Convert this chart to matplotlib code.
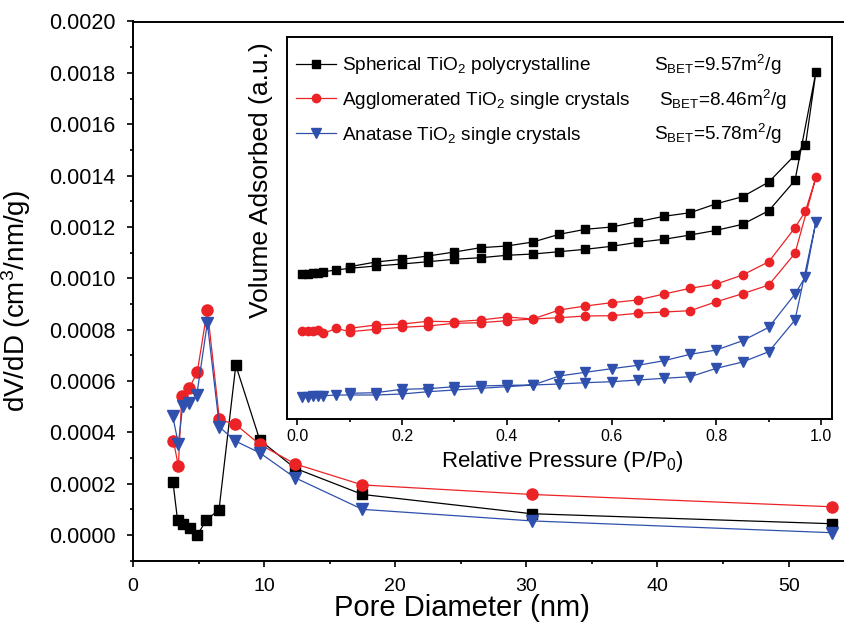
import numpy as np
import matplotlib
matplotlib.use("Agg")
import matplotlib.pyplot as plt
from matplotlib.ticker import MultipleLocator, FormatStrFormatter

plt.rcParams["font.family"] = ["Liberation Sans", "DejaVu Sans"]
plt.rcParams["mathtext.fontset"] = "custom"
plt.rcParams["mathtext.rm"] = "Liberation Sans"
plt.rcParams["mathtext.it"] = "Liberation Sans:italic"
plt.rcParams["mathtext.bf"] = "Liberation Sans:bold"

W, H = 845, 629  # figure size in px, used for placing titles

# ---- main panel: BJH pore size distribution --------------------------------
d_sph = [3.05, 3.4, 3.83, 4.35, 4.9, 5.6, 6.56, 7.84, 9.67, 12.36, 17.5, 30.4, 53.3]
v_sph = [0.000206, 0.000057, 0.000042, 0.000029, 0.0, 0.000058, 0.000099,
         0.000661, 0.000370, 0.000260, 0.000158, 0.000083, 0.000044]
d_agg = [3.08, 3.46, 3.72, 4.3, 4.9, 5.67, 6.59, 7.81, 9.67, 12.36, 17.5, 30.4, 53.3]
v_agg = [0.000368, 0.000268, 0.000541, 0.000573, 0.000634, 0.000878, 0.000450,
         0.000431, 0.000353, 0.000277, 0.000195, 0.000158, 0.000110]
d_ana = [3.03, 3.46, 3.79, 4.3, 4.86, 5.67, 6.59, 7.81, 9.67, 12.36, 17.5, 30.4, 53.3]
v_ana = [0.000463, 0.000355, 0.000502, 0.000515, 0.000544, 0.000826, 0.000421,
         0.000366, 0.000320, 0.000223, 0.000100, 0.000055, 0.000009]

# ---- inset: N2 isotherms (adsorption then desorption, arbitrary units) -----
p_ads = [0.01, 0.02, 0.03, 0.04, 0.05, 0.075, 0.1, 0.15, 0.2, 0.25, 0.3, 0.35,
         0.4, 0.45, 0.5, 0.55, 0.6, 0.65, 0.7, 0.75, 0.8, 0.85, 0.9, 0.95, 0.99]
p_des = [0.97, 0.95, 0.9, 0.85, 0.8, 0.75, 0.7, 0.65, 0.6, 0.55, 0.5, 0.45,
         0.4, 0.35, 0.3, 0.25, 0.2, 0.15, 0.1]

sph_ads = [144.7, 145.0, 145.7, 146.3, 147.3, 149.0, 150.7, 153.0, 155.0, 157.3,
           159.7, 161.3, 163.7, 165.0, 167.3, 169.7, 172.7, 176.7, 179.7, 184.0,
           188.7, 194.7, 208.3, 238.7, 347.3]
sph_des = [274.0, 264.0, 237.0, 222.3, 215.3, 206.3, 202.7, 197.3, 192.0, 189.7,
           184.7, 177.0, 173.0, 171.3, 167.0, 163.0, 159.7, 157.0, 152.3]

agg_ads = [88.0, 88.0, 88.3, 88.7, 85.7, 90.7, 87.3, 89.7, 91.7, 93.0, 95.7,
           96.3, 98.3, 100.0, 101.3, 103.0, 103.3, 105.7, 107.0, 108.3, 117.3,
           125.3, 134.0, 165.7, 241.7]
agg_des = [208.0, 191.3, 157.3, 144.0, 135.0, 130.7, 125.0, 119.0, 116.3, 113.0,
           109.0, 100.0, 102.0, 99.0, 97.3, 97.7, 95.0, 94.0, 90.7]

ana_ads = [22.3, 22.3, 22.7, 23.0, 23.3, 24.0, 24.0, 24.0, 25.0, 27.3, 29.0,
           30.7, 32.3, 34.0, 35.0, 36.3, 37.3, 39.0, 40.7, 42.3, 50.7, 57.0,
           67.3, 99.0, 197.3]
ana_des = [142.3, 125.0, 91.7, 78.3, 69.0, 64.7, 58.3, 53.7, 50.3, 46.7, 43.0,
           34.0, 33.7, 33.0, 32.3, 30.3, 29.7, 26.3, 25.7]

labels = [r"Spherical TiO$_2$ polycrystalline",
          r"Agglomerated TiO$_2$ single crystals",
          r"Anatase TiO$_2$ single crystals"]
sbet = [r"S$_{\mathrm{BET}}$=9.57m$^2$/g",
        r"S$_{\mathrm{BET}}$=8.46m$^2$/g",
        r"S$_{\mathrm{BET}}$=5.78m$^2$/g"]

RED = "#ec2326"
BLUE = "#2f50ad"
styles = [dict(color="black", marker="s"),
          dict(color=RED, marker="o"),
          dict(color=BLUE, marker="v")]

fig = plt.figure(figsize=(W / 100, H / 100), dpi=100)
ax = fig.add_axes([133 / W, 1 - 560.7 / H, 1 - 133 / W, (560.7 - 21.5) / H])

for (d, v), st, ms in zip([(d_sph, v_sph), (d_agg, v_agg), (d_ana, v_ana)],
                          styles, [7.0, 8.0, 9.0]):
    ax.plot(d, v, lw=0.9, ms=ms, mec=st["color"], **st)

ax.set_xlim(0, 54.3)
ax.set_ylim(-0.0001, 0.0020)
ax.xaxis.set_major_locator(MultipleLocator(10))
ax.xaxis.set_minor_locator(MultipleLocator(5))
ax.yaxis.set_major_locator(MultipleLocator(0.0002))
ax.yaxis.set_minor_locator(MultipleLocator(0.0001))
ax.yaxis.set_major_formatter(FormatStrFormatter("%.4f"))
ax.tick_params(which="major", direction="out", length=4.5, width=1.2)
ax.tick_params(which="minor", direction="out", length=2.5, width=1.2)
ax.tick_params(axis="x", labelsize=14, pad=8)
ax.tick_params(axis="y", labelsize=15.5, pad=8)
for s in ax.spines.values():
    s.set_linewidth(1.4)
ax.set_xlabel("Pore Diameter (nm)", fontsize=21)
ax.set_ylabel(r"dV/dD (cm$^3$/nm/g)", fontsize=20)
ax.xaxis.set_label_coords(462 / W, 1 - 594 / H, transform=fig.transFigure)
ax.yaxis.set_label_coords(33 / W, 1 - 301 / H, transform=fig.transFigure)

# ---- inset -----------------------------------------------------------------
ins = fig.add_axes([286.7 / W, 1 - 419 / H, (831.7 - 286.7) / W, (419 - 37.3) / H])
ads_des = [(sph_ads, sph_des), (agg_ads, agg_des), (ana_ads, ana_des)]
for (a, d), st, lab, ms in zip(ads_des, styles, labels, [5.2, 6.0, 7.0]):
    ins.plot(p_ads + p_des, a + d, lw=0.9, ms=ms, mec=st["color"], label=lab, **st)

ins.set_xlim(-0.02, 1.02)
ins.set_ylim(0, 381.7)
ins.set_yticks([])
ins.xaxis.set_major_locator(MultipleLocator(0.2))
ins.xaxis.set_minor_locator(MultipleLocator(0.1))
ins.xaxis.set_major_formatter(FormatStrFormatter("%.1f"))
ins.tick_params(which="major", direction="out", length=4, width=1.2, labelsize=11.5)
ins.tick_params(which="minor", direction="out", length=2.5, width=1.2)
for s in ins.spines.values():
    s.set_linewidth(1.4)
ins.set_xlabel(r"Relative Pressure (P/P$_0$)", fontsize=16)
ins.set_ylabel("Volume Adsorbed (a.u.)", fontsize=19)
ins.xaxis.set_label_coords(562 / W, 1 - 449 / H, transform=fig.transFigure)
ins.yaxis.set_label_coords(273 / W, 1 - 180 / H, transform=fig.transFigure)

leg = ins.legend(loc="upper left", bbox_to_anchor=(9 / 545, 1 - 18 / 381.7),
                 frameon=False, fontsize=13.7, handlelength=2.1,
                 handletextpad=0.35, labelspacing=0.72, borderaxespad=0,
                 borderpad=0)
row_y = [65, 99.5, 134]
row_x = [654, 659, 654]
for t, x, y in zip(sbet, row_x, row_y):
    fig.text(x / W, 1 - y / H, t, fontsize=13.7, ha="left", va="center")

fig.savefig("out.png", dpi=100)
